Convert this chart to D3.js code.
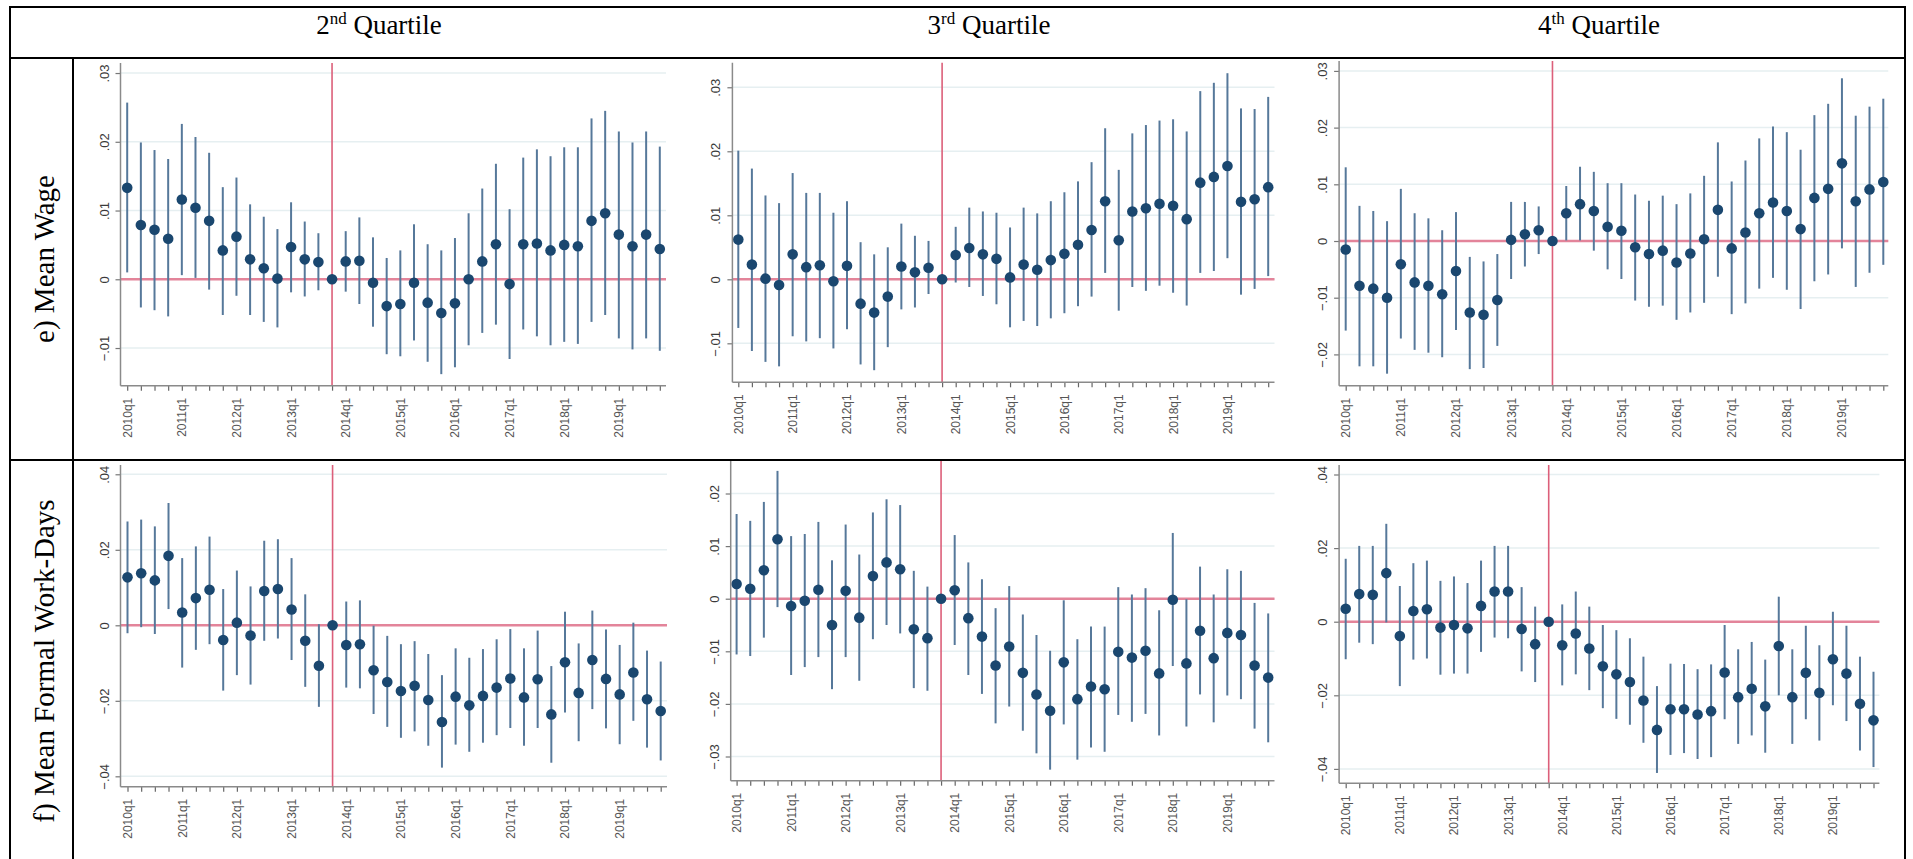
<!DOCTYPE html>
<html>
<head>
<meta charset="utf-8">
<script src="https://cdn.jsdelivr.net/npm/d3@7"></script>
<style>
  body { margin: 0; background: #fff; }
  svg { display: block; }
</style>
</head>
<body>
<svg id="chart" width="1913" height="859"></svg>
<script>
// quarters 2010q1 .. 2019q4
const years = [2010, 2011, 2012, 2013, 2014, 2015, 2016, 2017, 2018, 2019];
const quarters = years.flatMap((y) => [1, 2, 3, 4].map((q) => y + "q" + q));
const refQuarter = "2013q4";

const colTitles = [["2", "nd"], ["3", "rd"], ["4", "th"]];
const rowTitles = ["e) Mean Wage", "f) Mean Formal Work-Days"];

// e) Mean Wage
const wageQ2Est = [0.0133, 0.0079, 0.0072, 0.0059, 0.0116, 0.0104, 0.0085, 0.0042, 0.0062, 0.0029, 0.0016, 0.0001, 0.0047, 0.0029, 0.0025, 0, 0.0026, 0.0027, -0.0005, -0.0039, -0.0036, -0.0005, -0.0034, -0.0049, -0.0035, 0.0000, 0.0026, 0.0051, -0.0007, 0.0051, 0.0052, 0.0042, 0.0050, 0.0048, 0.0085, 0.0096, 0.0065, 0.0048, 0.0065, 0.0044];
const wageQ2Hi = [0.0257, 0.0199, 0.0188, 0.0175, 0.0226, 0.0207, 0.0184, 0.0134, 0.0148, 0.0109, 0.0091, 0.0073, 0.0112, 0.0084, 0.0067, null, 0.0070, 0.0090, 0.0061, 0.0031, 0.0042, 0.0080, 0.0051, 0.0042, 0.0060, 0.0096, 0.0132, 0.0168, 0.0102, 0.0177, 0.0189, 0.0179, 0.0192, 0.0192, 0.0234, 0.0245, 0.0215, 0.0199, 0.0215, 0.0193];
const wageQ2Lo = [0.0010, -0.0041, -0.0045, -0.0054, 0.0006, 0.0002, -0.0015, -0.0052, -0.0024, -0.0052, -0.0062, -0.0070, -0.0019, -0.0025, -0.0016, null, -0.0018, -0.0036, -0.0069, -0.0109, -0.0112, -0.0089, -0.0120, -0.0138, -0.0128, -0.0096, -0.0078, -0.0066, -0.0116, -0.0073, -0.0083, -0.0096, -0.0091, -0.0094, -0.0062, -0.0052, -0.0086, -0.0102, -0.0086, -0.0104];

const wageQ3Est = [0.0062, 0.0023, 0.0001, -0.0009, 0.0039, 0.0019, 0.0022, -0.0003, 0.0021, -0.0038, -0.0052, -0.0027, 0.0020, 0.0011, 0.0018, 0, 0.0038, 0.0049, 0.0039, 0.0032, 0.0003, 0.0023, 0.0015, 0.0030, 0.0040, 0.0054, 0.0077, 0.0122, 0.0061, 0.0106, 0.0111, 0.0118, 0.0115, 0.0094, 0.0151, 0.0160, 0.0177, 0.0121, 0.0125, 0.0144];
const wageQ3Hi = [0.0201, 0.0173, 0.0131, 0.0119, 0.0166, 0.0135, 0.0135, 0.0104, 0.0122, 0.0058, 0.0039, 0.0050, 0.0087, 0.0068, 0.0060, null, 0.0082, 0.0112, 0.0106, 0.0104, 0.0081, 0.0112, 0.0103, 0.0122, 0.0136, 0.0153, 0.0183, 0.0236, 0.0171, 0.0228, 0.0241, 0.0248, 0.0250, 0.0231, 0.0294, 0.0307, 0.0322, 0.0267, 0.0266, 0.0285];
const wageQ3Lo = [-0.0076, -0.0112, -0.0129, -0.0136, -0.0089, -0.0097, -0.0092, -0.0108, -0.0078, -0.0133, -0.0142, -0.0106, -0.0047, -0.0044, -0.0023, null, -0.0005, -0.0012, -0.0026, -0.0039, -0.0075, -0.0065, -0.0073, -0.0061, -0.0053, -0.0042, -0.0027, 0.0010, -0.0049, -0.0012, -0.0018, -0.0010, -0.0021, -0.0041, 0.0010, 0.0013, 0.0033, -0.0024, -0.0015, 0.0005];

const wageQ4Est = [-0.0015, -0.0079, -0.0084, -0.0100, -0.0041, -0.0073, -0.0079, -0.0094, -0.0053, -0.0126, -0.0130, -0.0104, 0.0002, 0.0012, 0.0019, 0, 0.0049, 0.0065, 0.0053, 0.0025, 0.0018, -0.0011, -0.0023, -0.0017, -0.0038, -0.0022, 0.0003, 0.0055, -0.0013, 0.0015, 0.0049, 0.0068, 0.0053, 0.0021, 0.0076, 0.0092, 0.0137, 0.0070, 0.0091, 0.0104];
const wageQ4Hi = [0.0130, 0.0062, 0.0053, 0.0035, 0.0092, 0.0049, 0.0040, 0.0019, 0.0051, -0.0028, -0.0036, -0.0023, 0.0069, 0.0069, 0.0061, null, 0.0097, 0.0131, 0.0122, 0.0102, 0.0102, 0.0082, 0.0071, 0.0080, 0.0065, 0.0084, 0.0115, 0.0174, 0.0105, 0.0142, 0.0181, 0.0202, 0.0192, 0.0161, 0.0222, 0.0242, 0.0287, 0.0221, 0.0237, 0.0251];
const wageQ4Lo = [-0.0158, -0.0221, -0.0221, -0.0234, -0.0172, -0.0192, -0.0197, -0.0205, -0.0157, -0.0226, -0.0224, -0.0185, -0.0067, -0.0045, -0.0023, null, 0.0001, 0.0001, -0.0017, -0.0050, -0.0067, -0.0105, -0.0116, -0.0114, -0.0139, -0.0126, -0.0109, -0.0063, -0.0129, -0.0110, -0.0084, -0.0065, -0.0086, -0.0120, -0.0071, -0.0059, -0.0013, -0.0081, -0.0056, -0.0042];

// f) Mean Formal Work-Days
const daysQ2Est = [0.0127, 0.0138, 0.0119, 0.0184, 0.0034, 0.0072, 0.0094, -0.0039, 0.0007, -0.0027, 0.0091, 0.0096, 0.0042, -0.0041, -0.0107, 0, -0.0052, -0.0050, -0.0119, -0.0150, -0.0174, -0.0160, -0.0198, -0.0256, -0.0189, -0.0212, -0.0187, -0.0165, -0.0141, -0.0191, -0.0143, -0.0236, -0.0098, -0.0179, -0.0092, -0.0142, -0.0183, -0.0125, -0.0196, -0.0227];
const daysQ2Hi = [0.0275, 0.0280, 0.0262, 0.0324, 0.0178, 0.0209, 0.0235, 0.0096, 0.0145, 0.0103, 0.0224, 0.0228, 0.0178, 0.0082, 0.0003, null, 0.0063, 0.0066, -0.0001, -0.0028, -0.0050, -0.0042, -0.0076, -0.0132, -0.0061, -0.0086, -0.0063, -0.0037, -0.0010, -0.0061, -0.0014, -0.0108, 0.0036, -0.0048, 0.0039, -0.0011, -0.0052, 0.0007, -0.0067, -0.0096];
const daysQ2Lo = [-0.0021, -0.0005, -0.0023, 0.0043, -0.0112, -0.0065, -0.0050, -0.0173, -0.0132, -0.0157, -0.0041, -0.0035, -0.0092, -0.0163, -0.0216, null, -0.0165, -0.0167, -0.0235, -0.0269, -0.0298, -0.0281, -0.0319, -0.0377, -0.0316, -0.0335, -0.0311, -0.0291, -0.0272, -0.0319, -0.0272, -0.0364, -0.0231, -0.0307, -0.0222, -0.0273, -0.0315, -0.0253, -0.0324, -0.0358];

const daysQ3Est = [0.0028, 0.0019, 0.0054, 0.0113, -0.0014, -0.0004, 0.0017, -0.0050, 0.0015, -0.0036, 0.0043, 0.0069, 0.0056, -0.0058, -0.0075, 0, 0.0016, -0.0037, -0.0072, -0.0127, -0.0091, -0.0141, -0.0182, -0.0213, -0.0121, -0.0191, -0.0167, -0.0172, -0.0101, -0.0112, -0.0099, -0.0142, -0.0002, -0.0123, -0.0061, -0.0113, -0.0065, -0.0069, -0.0127, -0.0150];
const daysQ3Hi = [0.0161, 0.0148, 0.0184, 0.0243, 0.0119, 0.0123, 0.0146, 0.0073, 0.0141, 0.0084, 0.0164, 0.0189, 0.0178, 0.0053, 0.0023, null, 0.0121, 0.0069, 0.0037, -0.0018, 0.0024, -0.0030, -0.0069, -0.0099, -0.0003, -0.0077, -0.0053, -0.0053, 0.0022, 0.0008, 0.0020, -0.0022, 0.0125, -0.0001, 0.0061, 0.0008, 0.0056, 0.0053, -0.0008, -0.0028];
const daysQ3Lo = [-0.0106, -0.0109, -0.0074, -0.0016, -0.0145, -0.0130, -0.0111, -0.0172, -0.0111, -0.0156, -0.0077, -0.0050, -0.0066, -0.0170, -0.0175, null, -0.0088, -0.0145, -0.0181, -0.0237, -0.0205, -0.0251, -0.0294, -0.0325, -0.0239, -0.0306, -0.0283, -0.0291, -0.0221, -0.0234, -0.0219, -0.0260, -0.0128, -0.0243, -0.0182, -0.0235, -0.0184, -0.0191, -0.0247, -0.0273];

const daysQ4Est = [0.0035, 0.0075, 0.0073, 0.0132, -0.0039, 0.0029, 0.0034, -0.0016, -0.0009, -0.0018, 0.0043, 0.0082, 0.0082, -0.0020, -0.0061, 0, -0.0064, -0.0032, -0.0073, -0.0121, -0.0143, -0.0164, -0.0214, -0.0294, -0.0238, -0.0238, -0.0252, -0.0243, -0.0138, -0.0205, -0.0182, -0.0230, -0.0066, -0.0205, -0.0139, -0.0193, -0.0102, -0.0141, -0.0223, -0.0268];
const daysQ4Hi = [0.0171, 0.0206, 0.0206, 0.0266, 0.0097, 0.0159, 0.0166, 0.0111, 0.0123, 0.0105, 0.0166, 0.0206, 0.0206, 0.0094, 0.0041, null, 0.0047, 0.0082, 0.0041, -0.0009, -0.0023, -0.0045, -0.0095, -0.0175, -0.0114, -0.0115, -0.0129, -0.0116, -0.0009, -0.0075, -0.0055, -0.0103, 0.0068, -0.0075, -0.0011, -0.0064, 0.0027, -0.0011, -0.0095, -0.0136];
const daysQ4Lo = [-0.0102, -0.0057, -0.0061, -0.0002, -0.0175, -0.0103, -0.0100, -0.0144, -0.0141, -0.0141, -0.0082, -0.0043, -0.0045, -0.0135, -0.0164, null, -0.0173, -0.0143, -0.0186, -0.0235, -0.0264, -0.0280, -0.0329, -0.0411, -0.0362, -0.0357, -0.0373, -0.0368, -0.0265, -0.0332, -0.0309, -0.0356, -0.0200, -0.0332, -0.0265, -0.0323, -0.0227, -0.0270, -0.0350, -0.0395];

// y tick labels per panel
const wageTicksQ2 = [-0.01, 0, 0.01, 0.02, 0.03];
const wageTicksQ3 = [-0.01, 0, 0.01, 0.02, 0.03];
const wageTicksQ4 = [-0.02, -0.01, 0, 0.01, 0.02, 0.03];
const daysTicksQ2 = [-0.04, -0.02, 0, 0.02, 0.04];
const daysTicksQ3 = [-0.03, -0.02, -0.01, 0, 0.01, 0.02];
const daysTicksQ4 = [-0.04, -0.02, 0, 0.02, 0.04];

// panel geometry (pixels) + y domain
const panels = [
  { est: wageQ2Est, lo: wageQ2Lo, hi: wageQ2Hi, ticks: wageTicksQ2, axisX: 120.5, x0: 127.2, x1: 659.8, right: 666, top: 63, bottom: 385.7, dom: [-0.01548, 0.03146] },
  { est: wageQ3Est, lo: wageQ3Lo, hi: wageQ3Hi, ticks: wageTicksQ3, axisX: 732.4, x0: 738.3, x1: 1268.2, right: 1274.5, top: 62.7, bottom: 382.3, dom: [-0.01609, 0.03384] },
  { est: wageQ4Est, lo: wageQ4Lo, hi: wageQ4Hi, ticks: wageTicksQ4, axisX: 1339.1, x0: 1345.7, x1: 1883.3, right: 1888.3, top: 61, bottom: 385.7, dom: [-0.02552, 0.03175] },
  { est: daysQ2Est, lo: daysQ2Lo, hi: daysQ2Hi, ticks: daysTicksQ2, axisX: 120.5, x0: 127.5, x1: 660.7, right: 667, top: 465, bottom: 786.7, dom: [-0.04275, 0.04246] },
  { est: daysQ3Est, lo: daysQ3Lo, hi: daysQ3Hi, ticks: daysTicksQ3, axisX: 730.7, x0: 736.6, x1: 1268.2, right: 1274.5, top: 461, bottom: 780.7, dom: [-0.0346, 0.02618] },
  { est: daysQ4Est, lo: daysQ4Lo, hi: daysQ4Hi, ticks: daysTicksQ4, axisX: 1339.1, x0: 1345.7, x1: 1873.5, right: 1879.4, top: 465, bottom: 783.3, dom: [-0.04391, 0.04258] },
];

const svg = d3.select("#chart");
svg.append("rect").attr("width", 1913).attr("height", 859).attr("fill", "#fff");

const fmt = (v) => (v === 0 ? "0" : d3.format(".2f")(v).replace("0.", "."));

panels.forEach((p) => {
  const x = d3.scalePoint().domain(quarters).range([p.x0, p.x1]);
  const y = d3.scaleLinear().domain(p.dom).range([p.bottom, p.top]);
  const g = svg.append("g");

  // gridlines
  g.selectAll(".grid")
    .data(p.ticks)
    .join("line")
    .attr("x1", p.axisX)
    .attr("x2", p.right)
    .attr("y1", (d) => y(d))
    .attr("y2", (d) => y(d))
    .attr("stroke", "#e6eff1")
    .attr("stroke-width", 1.5);

  // reference lines
  g.append("line")
    .attr("x1", p.axisX)
    .attr("x2", p.right)
    .attr("y1", y(0))
    .attr("y2", y(0))
    .attr("stroke", "#e3849a")
    .attr("stroke-width", 2.5);
  g.append("line")
    .attr("x1", x(refQuarter))
    .attr("x2", x(refQuarter))
    .attr("y1", p.top)
    .attr("y2", p.bottom)
    .attr("stroke", "#dc5f7a")
    .attr("stroke-width", 1.6);

  const rows = quarters.map((q, i) => ({ q, est: p.est[i], lo: p.lo[i], hi: p.hi[i] }));

  // confidence intervals
  g.selectAll(".ci")
    .data(rows.filter((d) => d.lo !== null))
    .join("line")
    .attr("x1", (d) => x(d.q))
    .attr("x2", (d) => x(d.q))
    .attr("y1", (d) => y(d.lo))
    .attr("y2", (d) => y(d.hi))
    .attr("stroke", "#56789a")
    .attr("stroke-width", 2);

  // point estimates
  g.selectAll(".dot")
    .data(rows)
    .join("circle")
    .attr("cx", (d) => x(d.q))
    .attr("cy", (d) => y(d.est))
    .attr("r", 5.3)
    .attr("fill", "#1a476f");

  // y axis
  const yAx = g.append("g")
    .attr("transform", `translate(${p.axisX},0)`)
    .call(d3.axisLeft(y).tickValues(p.ticks).tickFormat(fmt).tickSize(5).tickSizeOuter(0));
  yAx.select(".domain").remove();
  yAx.selectAll(".tick line").attr("stroke", "#777").attr("stroke-width", 1.2);
  yAx.selectAll(".tick text")
    .attr("x", null)
    .attr("dy", null)
    .attr("transform", "translate(-12,0) rotate(-90)")
    .attr("text-anchor", "middle")
    .attr("fill", "#3a3a3a")
    .style("font", "13px 'Liberation Sans', Arial, sans-serif");
  g.append("line")
    .attr("x1", p.axisX).attr("x2", p.axisX)
    .attr("y1", p.top).attr("y2", p.bottom)
    .attr("stroke", "#8a8a8a").attr("stroke-width", 1.5);

  // x axis
  const xAx = g.append("g")
    .attr("transform", `translate(0,${p.bottom})`)
    .call(d3.axisBottom(x).tickFormat((d) => (d.endsWith("q1") ? d : "")).tickSize(5).tickSizeOuter(0));
  xAx.select(".domain").remove();
  xAx.selectAll(".tick line").attr("stroke", "#666").attr("stroke-width", 1.2);
  xAx.selectAll(".tick text")
    .attr("y", null)
    .attr("dy", null)
    .attr("transform", "translate(4,12) rotate(-90)")
    .attr("text-anchor", "end")
    .attr("fill", "#555")
    .style("font", "12px 'Liberation Sans', Arial, sans-serif");
  g.append("line")
    .attr("x1", p.axisX).attr("x2", p.right)
    .attr("y1", p.bottom).attr("y2", p.bottom)
    .attr("stroke", "#8a8a8a").attr("stroke-width", 1.5);
});

// table frame
const frame = svg.append("g").attr("stroke", "#000").attr("stroke-width", 2);
frame.append("line").attr("x1", 9).attr("x2", 1906).attr("y1", 7).attr("y2", 7);
frame.append("line").attr("x1", 10).attr("x2", 10).attr("y1", 6).attr("y2", 859);
frame.append("line").attr("x1", 1905).attr("x2", 1905).attr("y1", 6).attr("y2", 859);
frame.append("line").attr("x1", 10).attr("x2", 1905).attr("y1", 58).attr("y2", 58);
frame.append("line").attr("x1", 10).attr("x2", 1905).attr("y1", 460).attr("y2", 460);
frame.append("line").attr("x1", 73).attr("x2", 73).attr("y1", 58).attr("y2", 859);

// column headers
const headX = [379, 989, 1599];
colTitles.forEach((t, i) => {
  const txt = svg.append("text")
    .attr("x", headX[i])
    .attr("y", 34)
    .attr("text-anchor", "middle")
    .style("font", "27px 'Liberation Serif', 'Times New Roman', serif")
    .attr("fill", "#000");
  txt.append("tspan").text(t[0]);
  txt.append("tspan").attr("font-size", "17px").attr("dy", -10).text(t[1]);
  txt.append("tspan").attr("dy", 10).text(" Quartile");
});

// row labels
const rowY = [259, 661];
rowTitles.forEach((t, i) => {
  svg.append("text")
    .attr("transform", `translate(54,${rowY[i]}) rotate(-90)`)
    .attr("text-anchor", "middle")
    .style("font", "29px 'Liberation Serif', 'Times New Roman', serif")
    .attr("fill", "#000")
    .text(t);
});
</script>
</body>
</html>
